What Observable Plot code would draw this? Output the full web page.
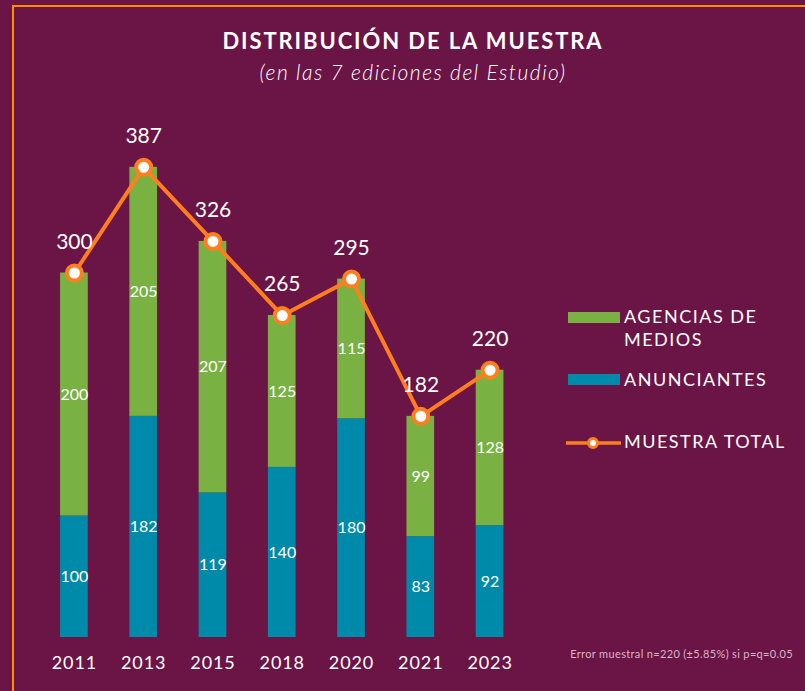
<!DOCTYPE html>
<html>
<head>
<meta charset="utf-8">
<script src="https://cdn.jsdelivr.net/npm/d3@7"></script>
<script src="https://cdn.jsdelivr.net/npm/@observablehq/plot@0.6"></script>
<style>
  html, body { margin: 0; padding: 0; }
  body { width: 805px; height: 691px; overflow: hidden; background: #6B1446; position: relative; font-family: Lato, "Open Sans", sans-serif; color: #fff; }
  #frame { position: absolute; left: 11.5px; top: 5px; width: 900px; height: 800px; border-top: 2.5px solid #FF8D00; border-left: 2.5px solid #FF8D00; }
  #title { position: absolute; left: 21px; width: 784px; top: 27px; text-align: center; font-weight: 700; font-size: 22px; line-height: 28px; letter-spacing: 1.9px; }
  #subtitle { position: absolute; left: 21px; width: 784px; top: 60px; text-align: center; font-style: italic; font-weight: 300; font-size: 21px; line-height: 24px; letter-spacing: 1.5px; }
  #chart { position: absolute; left: 0; top: 100px; }
  #chart g[aria-label="x-axis tick label"] text { letter-spacing: 0.9px; }
  .leg { position: absolute; font-size: 18px; letter-spacing: 1.5px; line-height: 23px; }
  .sw { position: absolute; width: 52px; height: 11px; }
  #note { position: absolute; right: 12px; top: 647px; font-size: 11px; letter-spacing: 0.35px; color: #D9B5C8; }
</style>
</head>
<body>
<div id="frame"></div>
<div id="title">DISTRIBUCIÓN DE LA MUESTRA</div>
<div id="subtitle">(en las 7 ediciones del Estudio)</div>
<div id="chart"></div>
<div id="legend"></div>
<div id="note">Error muestral n=220 (±5.85%) si p=q=0.05</div>
<script>
// ---- Data ----
const years = ["2011", "2013", "2015", "2018", "2020", "2021", "2023"];
const anunciantes = [100, 182, 119, 140, 180, 83, 92];
const agencias = [200, 205, 207, 125, 115, 99, 128];
const totals = [300, 387, 326, 265, 295, 182, 220];
const seriesNames = ["AGENCIAS DE MEDIOS", "ANUNCIANTES"];
const totalName = "MUESTRA TOTAL";

// ---- Styles ----
const GREEN = "#79B143";
const BLUE = "#008AA9";
const ORANGE = "#FF7F1E";

// Build segment table (anunciantes at bottom, agencias on top)
const segments = [];
years.forEach((yr, i) => {
  const a = anunciantes[i], g = agencias[i];
  segments.push({year: yr, series: seriesNames[1], value: a, y1: 0, y2: a, mid: a / 2});
  segments.push({year: yr, series: seriesNames[0], value: g, y1: a, y2: a + g, mid: a + g / 2});
});
const totalRows = years.map((yr, i) => ({year: yr, total: totals[i]}));

const plot = Plot.plot({
  width: 805,
  height: 591,
  marginLeft: 18.5,
  marginRight: 260,
  marginTop: 51,
  marginBottom: 54,
  style: {background: "transparent", color: "#fff", fontFamily: "Lato, 'Open Sans', sans-serif", overflow: "visible"},
  x: {domain: years, padding: 0.6, round: false},
  y: {domain: [0, 400], axis: null},
  color: {domain: seriesNames, range: [GREEN, BLUE]},
  marks: [
    Plot.barY(segments, {x: "year", y1: "y1", y2: "y2", fill: "series"}),
    Plot.text(segments, {x: "year", y: "mid", text: d => String(d.value), fill: "#fff", fontSize: 16}),
    Plot.line(totalRows, {x: "year", y: "total", stroke: ORANGE, strokeWidth: 4}),
    Plot.dot(totalRows, {x: "year", y: "total", r: 7.5, fill: "#fff", stroke: ORANGE, strokeWidth: 4}),
    Plot.text(totalRows, {x: "year", y: "total", text: d => String(d.total), dy: -31, fill: "#fff", fontSize: 21}),
    Plot.axisX({tickSize: 0, tickPadding: 19, fontSize: 18, fill: "#fff", label: null})
  ]
});
document.getElementById("chart").appendChild(plot);

// ---- Legend (HTML) ----
const legend = document.getElementById("legend");
legend.innerHTML = `
  <div class="sw" style="left:568px;top:312px;background:${GREEN}"></div>
  <div class="leg" style="left:624px;top:305px;">AGENCIAS DE<br>MEDIOS</div>
  <div class="sw" style="left:568px;top:374px;background:${BLUE}"></div>
  <div class="leg" style="left:624px;top:368px;">${seriesNames[1]}</div>
  <svg style="position:absolute;left:564px;top:432px" width="60" height="22">
    <line x1="2" x2="57" y1="11" y2="11" stroke="${ORANGE}" stroke-width="3.5"/>
    <circle cx="29" cy="11" r="4.5" fill="#fff" stroke="${ORANGE}" stroke-width="3"/>
  </svg>
  <div class="leg" style="left:624px;top:430px;">${totalName}</div>
`;
</script>
</body>
</html>
